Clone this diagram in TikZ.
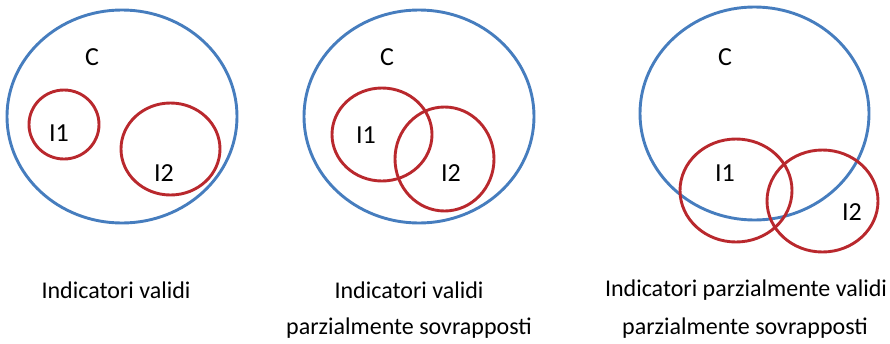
\documentclass[tikz,border=0pt]{standalone}
\usepackage{fontspec}
\setmainfont{Carlito}
\usetikzlibrary{shapes.geometric}
\definecolor{setblue}{RGB}{70,125,190}
\definecolor{setred}{RGB}{185,40,45}
\tikzset{
  bigset/.style={draw=setblue, line width=2.9pt, ellipse, inner sep=0pt},
  subset/.style={draw=setred, line width=2.9pt, ellipse, inner sep=0pt},
  lbl/.style={font=\fontsize{26}{30}\selectfont, inner sep=0pt},
  captext/.style={font=\fontsize{24}{28}\selectfont, inner sep=0pt}
}
\begin{document}
\begin{tikzpicture}[x=1pt,y=-1pt]
\useasboundingbox (0,0) rectangle (890,343);
% panel 1
\node[bigset, minimum width=230pt, minimum height=213pt] (c1) at (122,116.5) {};
\node[subset, minimum width=70pt, minimum height=69pt] (a1) at (64,124.5) {};
\node[subset, minimum width=99pt, minimum height=92pt] (b1) at (170.5,149) {};
\node[lbl] (tc1) at (92,57) {C};
\node[lbl] (ta1) at (59,133) {I1};
\node[lbl] (tb1) at (164,173) {I2};
\node[captext] (cap1) at (116,290) {Indicatori validi};
% panel 2
\node[bigset, minimum width=230pt, minimum height=213pt] (c2) at (419,116.5) {};
\node[subset, minimum width=100pt, minimum height=93pt] (a2) at (382,134.5) {};
\node[subset, minimum width=99pt, minimum height=104pt] (b2) at (444.5,159) {};
\node[lbl] (tc2) at (387,57) {C};
\node[lbl] (ta2) at (366,135) {I1};
\node[lbl] (tb2) at (451,173) {I2};
\node[captext] (cap2a) at (409,290) {Indicatori validi};
\node[captext] (cap2b) at (409,328) {parzialmente sovrapposti};
% panel 3
\node[bigset, minimum width=229pt, minimum height=213pt] (c3) at (754.5,113.5) {};
\node[subset, minimum width=112pt, minimum height=103pt] (a3) at (736,190.5) {};
\node[subset, minimum width=111pt, minimum height=102pt] (b3) at (822.5,201) {};
\node[lbl] (tc3) at (725,57) {C};
\node[lbl] (ta3) at (725,173) {I1};
\node[lbl] (tb3) at (852,212) {I2};
\node[captext] (cap3a) at (746,290) {Indicatori parzialmente validi};
\node[captext] (cap3b) at (745,328) {parzialmente sovrapposti};
\end{tikzpicture}
\end{document}
